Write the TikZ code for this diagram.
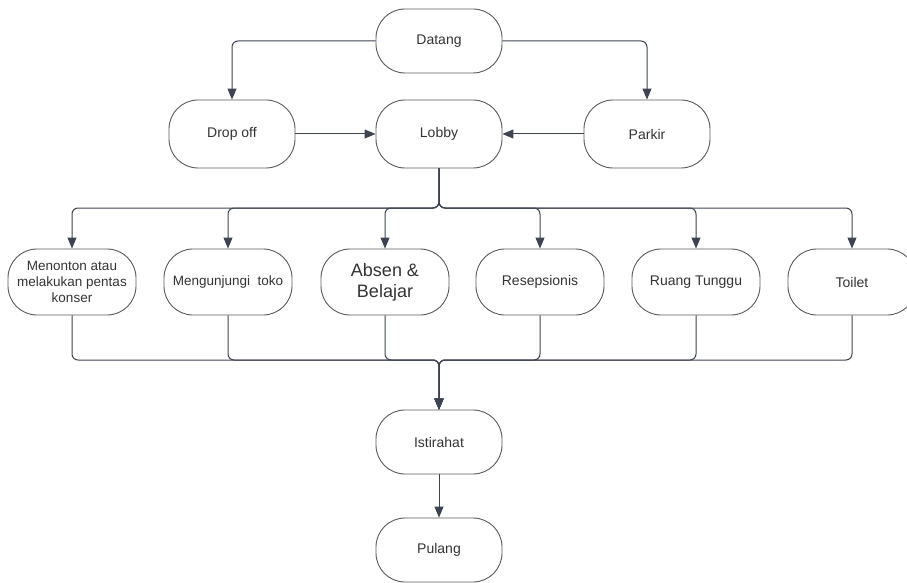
\documentclass[tikz,border=0pt]{standalone}
\usepackage{fontspec}
\setmainfont{Liberation Sans}
\usetikzlibrary{arrows.meta}
\definecolor{boxline}{HTML}{5A5A5A}
\definecolor{conn}{HTML}{3D4350}
\definecolor{txt}{HTML}{333333}
\tikzset{
  pill/.style={draw=boxline, line width=0.9pt, rounded corners=29pt, minimum width=126pt, minimum height=66pt, inner sep=2pt, align=center, text=txt, font=\fontsize{14}{16}\selectfont},
  arr/.style={draw=conn, line width=1pt, rounded corners=6pt, -{Triangle[length=11pt,width=9pt]}},
  ln/.style={draw=conn, line width=1pt, rounded corners=6pt}
}
\begin{document}
\begin{tikzpicture}[x=1pt,y=-1pt]
\useasboundingbox (0,0) rectangle (907,583);
\clip (0,0) rectangle (907,583);
\node[pill, minimum height=64pt] (datang) at (439,41) {Datang};
\node[pill, minimum height=68pt] (dropoff) at (232,134) {Drop off};
\node[pill, minimum height=68pt] (lobby) at (439,134) {Lobby};
\node[pill, minimum height=68pt] (parkir) at (647,134) {Parkir};

\node[pill, minimum width=128pt, font=\fontsize{13.5}{16}\selectfont] (m1) at (72,282) {Menonton atau\\melakukan pentas\\konser};
\node[pill, minimum width=128pt, font=\fontsize{13.5}{16}\selectfont] (m2) at (228,282) {Mengunjungi\ \ toko};
\node[pill, minimum width=128pt, font=\fontsize{18}{21}\selectfont] (m3) at (385,282) {Absen \&\\Belajar};
\node[pill, minimum width=128pt] (m4) at (540,282) {Resepsionis};
\node[pill, minimum width=128pt] (m5) at (696,282) {Ruang Tunggu};
\node[pill, minimum width=128pt] (m6) at (852,282) {Toilet};

\node[pill, minimum height=64pt] (istirahat) at (439,442) {Istirahat};
\node[pill, minimum height=64pt] (pulang) at (439,550) {Pulang};

% Datang branches
\draw[arr] (datang.west) -- (dropoff.north |- datang.west) -- (dropoff.north);
\draw[arr] (datang.east) -- (parkir.north |- datang.east) -- (parkir.north);
\draw[arr] (dropoff.east) -- (lobby.west);
\draw[arr] (parkir.west) -- (lobby.east);

% Lobby to row
\coordinate (top) at (439,208);
\foreach \n in {m1,m2,m3,m4,m5,m6}{
  \draw[arr] (lobby.south) -- (top) -- (\n.north |- top) -- (\n.north);
}
% Row to Istirahat
\coordinate (bot) at (439,360);
\foreach \n in {m1,m2,m3,m4,m5,m6}{
  \draw[arr] (\n.south) -- (\n.south |- bot) -- (bot) -- (istirahat.north);
}
\draw[arr] (istirahat.south) -- (pulang.north);
\end{tikzpicture}
\end{document}
